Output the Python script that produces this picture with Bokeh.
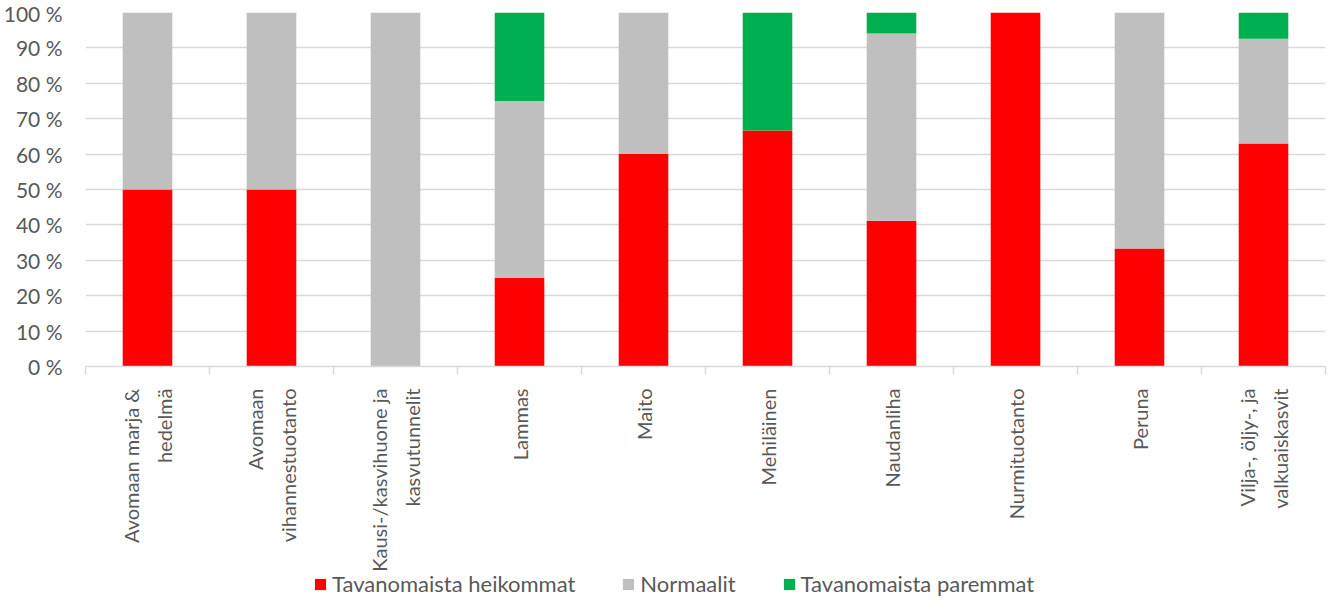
import math
from bokeh.plotting import figure
from bokeh.layouts import column
from bokeh.models import (Range1d, LinearAxis, FixedTicker,
                          Legend, LegendItem, ColumnDataSource)
from bokeh.core.properties import value
from bokeh.embed import file_html
from bokeh.resources import INLINE

categories = [
    "Avomaan marja & hedelmä",
    "Avomaan vihannestuotanto",
    "Kausi-/kasvihuone ja kasvutunnelit",
    "Lammas",
    "Maito",
    "Mehiläinen",
    "Naudanliha",
    "Nurmituotanto",
    "Peruna",
    "Vilja-, öljy-, ja valkuaiskasvit",
]
tick_labels = [
    "Avomaan marja &\nhedelmä",
    "Avomaan\nvihannestuotanto",
    "Kausi-/kasvihuone ja\nkasvutunnelit",
    "Lammas",
    "Maito",
    "Mehiläinen",
    "Naudanliha",
    "Nurmituotanto",
    "Peruna",
    "Vilja-, öljy-, ja\nvalkuaiskasvit",
]
heikommat = [50, 50, 0, 25, 60, 66.7, 41.2, 100, 33.3, 63.0]
normaalit = [50, 50, 100, 50, 40, 0, 52.9, 0, 66.7, 29.6]
paremmat = [0, 0, 0, 25, 0, 33.3, 5.9, 0, 0, 7.4]
series_names = ["Tavanomaista heikommat", "Normaalit", "Tavanomaista paremmat"]
colors = ["#FF0000", "#BFBFBF", "#00B050"]
y_ticks = list(range(0, 101, 10))

FONT = "Lato"
TXT = "#595959"
GRID = "#d9d9d9"

n = len(categories)
centers = [i + 0.5 for i in range(n)]
bounds = list(range(n + 1))
x_range = Range1d(0, n)

source = ColumnDataSource(dict(x=centers, s0=heikommat, s1=normaalit, s2=paremmat))

# ---- main chart ----
p = figure(x_range=x_range, y_range=Range1d(0, 100),
           width=1327, height=382,
           output_backend="svg", toolbar_location=None, x_axis_location=None,
           min_border_left=82, min_border_right=2, min_border_top=12,
           min_border_bottom=16)
p.outline_line_color = None
p.xgrid.grid_line_color = None
p.ygrid.grid_line_color = GRID
p.ygrid.grid_line_width = 1.5
p.ygrid.ticker = FixedTicker(ticks=y_ticks)

p.vbar_stack(["s0", "s1", "s2"], x="x", width=0.4, color=colors,
             line_color=None, source=source)

yax = p.yaxis[0]
yax.ticker = FixedTicker(ticks=y_ticks)
yax.major_label_overrides = {t: f"{t} %" for t in y_ticks}
yax.axis_line_color = None
yax.major_tick_line_color = None
yax.minor_tick_line_color = None
yax.major_label_standoff = 17
yax.major_label_text_font = FONT
yax.major_label_text_font_size = "21px"
yax.major_label_text_color = TXT

bax = LinearAxis(ticker=FixedTicker(ticks=bounds),
                 major_label_overrides={b: "" for b in bounds},
                 major_label_text_font_size="0px", major_label_standoff=0,
                 major_tick_out=8, major_tick_in=0, minor_tick_line_color=None,
                 axis_line_color=GRID, axis_line_width=1.5,
                 major_tick_line_color=GRID, major_tick_line_width=1.5)
p.add_layout(bax, "below")

# ---- category labels + legend strip (shares the x scale) ----
H2 = 216
q = figure(x_range=x_range, y_range=Range1d(0, H2), width=1327, height=H2,
           output_backend="svg", toolbar_location=None,
           x_axis_location=None, y_axis_location=None,
           min_border_left=82, min_border_right=2, min_border_top=0,
           min_border_bottom=0)
q.outline_line_color = None
q.grid.grid_line_color = None

q.text(x=centers, y=[H2 - 6] * n, text=tick_labels, angle=math.pi / 2,
       text_align="right", text_baseline="middle", text_font=value(FONT),
       text_font_size="20px", text_color=TXT, text_line_height=1.4)

# legend swatches: zero-height bars (invisible), used only for legend glyphs
zero = [0] * n
dummy_src = ColumnDataSource(dict(x=centers, z=zero))
dummy = [q.vbar(x="x", top="z", bottom="z", width=0.4, color=c,
                line_color=None, source=dummy_src) for c in colors]
items = [LegendItem(label=nm, renderers=[r]) for nm, r in zip(series_names, dummy)]
legend = Legend(items=items, orientation="horizontal", location=(228, 1),
                border_line_color=None, background_fill_alpha=0,
                label_text_font=FONT, label_text_font_size="22px",
                label_text_color=TXT, glyph_width=14, glyph_height=14,
                label_standoff=5, spacing=46, padding=0, margin=0)
q.add_layout(legend, "center")

layout = column(p, q, spacing=0)
open("out.html", "w").write(file_html(layout, INLINE))
